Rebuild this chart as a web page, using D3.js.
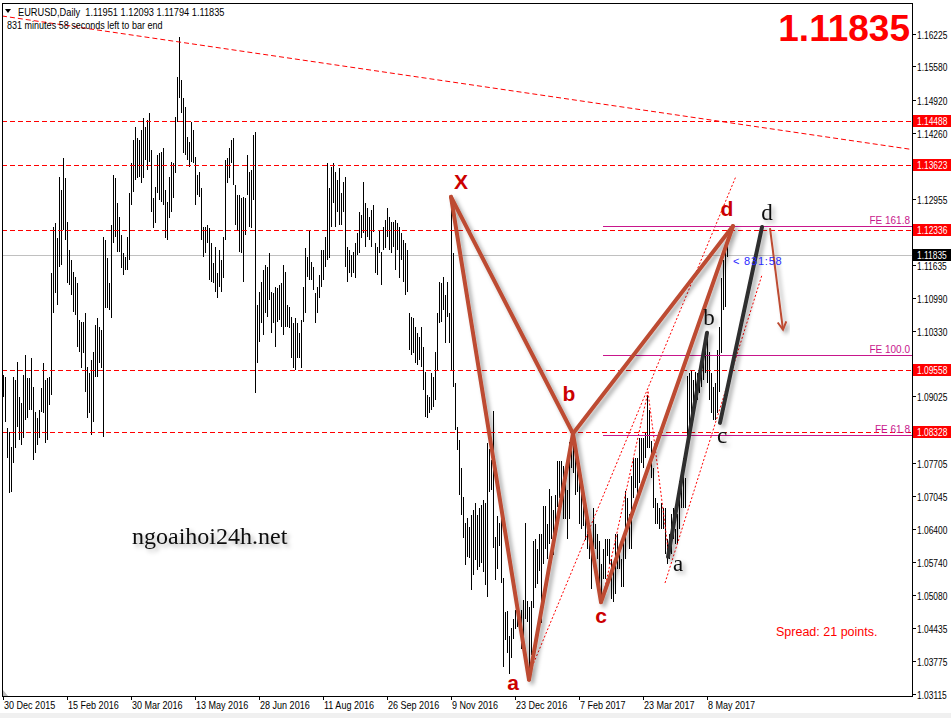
<!DOCTYPE html>
<html><head><meta charset="utf-8">
<script src="https://cdn.jsdelivr.net/npm/d3@7"></script>
<style>
body{margin:0;background:#fff}
svg{display:block}
</style>
</head><body>
<svg id="chart" width="951" height="718" font-family="Liberation Sans, Arial, sans-serif"></svg>
<script>
// ---- EURUSD daily bars, 30 Dec 2015 .. 22 May 2017 ----
const symbol = "EURUSD,Daily";
const lastBar = {open: 1.11951, high: 1.12093, low: 1.11794, close: 1.11835};
const highs = [
1.0945,1.0941,1.0840,1.0832,1.0802,1.0941,1.0935,1.0971,1.0902,1.0890,
1.0945,1.0985,1.0939,1.0939,1.0979,1.0921,1.0872,1.0860,1.0876,1.0919,
1.0969,1.0935,1.0939,1.0941,1.1148,1.1239,1.1247,1.1217,1.1338,1.1313,
1.1376,1.1336,1.1249,1.1194,1.1174,1.1150,1.1140,1.1128,1.1054,1.1051,
1.1051,1.1068,1.0961,1.0949,1.0975,1.0991,1.1045,1.1058,1.1041,1.1035,
1.1219,1.1213,1.1178,1.1128,1.1243,1.1342,1.1336,1.1287,1.1259,1.1223,
1.1188,1.1180,1.1219,1.1307,1.1366,1.1412,1.1438,1.1416,1.1412,1.1432,
1.1456,1.1438,1.1452,1.1466,1.1392,1.1297,1.1319,1.1382,1.1386,1.1388,
1.1396,1.1313,1.1289,1.1338,1.1368,1.1366,1.1458,1.1537,1.1617,1.1531,
1.1495,1.1477,1.1418,1.1408,1.1448,1.1432,1.1378,1.1342,1.1348,1.1317,
1.1239,1.1239,1.1243,1.1237,1.1207,1.1168,1.1199,1.1148,1.1194,1.1174,
1.1219,1.1372,1.1376,1.1396,1.1412,1.1416,1.1323,1.1303,1.1303,1.1297,
1.1299,1.1297,1.1382,1.1348,1.1352,1.1422,1.1428,1.1084,1.1110,1.1130,
1.1154,1.1164,1.1160,1.1188,1.1110,1.1108,1.1120,1.1118,1.1124,1.1128,
1.1164,1.1150,1.1084,1.1080,1.1060,1.1049,1.1058,1.1049,1.1029,1.1054,
1.1120,1.1198,1.1180,1.1233,1.1170,1.1160,1.1108,1.1120,1.1144,1.1194,
1.1194,1.1219,1.1366,1.1317,1.1358,1.1366,1.1348,1.1333,1.1356,1.1307,
1.1329,1.1338,1.1199,1.1194,1.1184,1.1190,1.1207,1.1227,1.1269,1.1263,
1.1329,1.1287,1.1277,1.1259,1.1273,1.1283,1.1207,1.1199,1.1233,1.1190,
1.1239,1.1253,1.1277,1.1259,1.1249,1.1249,1.1253,1.1247,1.1239,1.1227,
1.1213,1.1207,1.1194,1.1068,1.1060,1.1058,1.1041,1.1029,1.1021,1.1041,
1.1001,1.0951,1.0906,1.0902,1.0949,1.0941,1.0991,1.1068,1.1130,1.1128,
1.1140,1.1104,1.1130,1.1068,1.1299,1.1188,1.0929,1.0842,1.0816,1.0761,
1.0703,1.0651,1.0661,1.0643,1.0667,1.0677,1.0691,1.0667,1.0681,1.0687,
1.0697,1.0691,1.0810,1.0799,1.0776,1.0874,1.0623,1.0666,1.0652,1.0670,
1.0541,1.0475,1.0477,1.0427,1.0443,1.0460,1.0478,1.0472,1.0475,1.0479,
1.0498,1.0652,1.0497,1.0485,1.0497,1.0615,1.0620,1.0600,1.0630,1.0630,
1.0685,1.0684,1.0650,1.0718,1.0705,1.0677,1.0707,1.0774,1.0775,1.0775,
1.0765,1.0733,1.0717,1.0812,1.0810,1.0829,1.0800,1.0790,1.0750,1.0720,
1.0690,1.0690,1.0656,1.0640,1.0610,1.0680,1.0650,1.0630,1.0615,1.0570,
1.0600,1.0620,1.0620,1.0620,1.0580,1.0560,1.0630,1.0630,1.0600,1.0580,
1.0615,1.0715,1.0700,1.0670,1.0745,1.0780,1.0780,1.0780,1.0820,1.0820,
1.0820,1.0830,1.0906,1.0875,1.0815,1.0760,1.0700,1.0690,1.0680,1.0690,
1.0680,1.0680,1.0620,1.0630,1.0670,1.0680,1.0640,1.0670,1.0735,1.0740,
1.0780,1.0740,1.0943,1.0949,1.0955,1.0935,1.0951,1.0949,1.0961,1.0975,
1.1001,1.1014,1.1029,1.0991,1.0949,1.0921,1.0929,1.0995,1.1041,1.1138,
1.1174,1.1199,1.12093];
const lows = [
1.0902,1.0852,1.0780,1.0711,1.0713,1.0770,1.0800,1.0842,1.0816,1.0806,
1.0820,1.0856,1.0860,1.0876,1.0876,1.0776,1.0790,1.0806,1.0820,1.0872,
1.0870,1.0810,1.0816,1.0886,1.0906,1.1068,1.1108,1.1084,1.1160,1.1164,
1.1233,1.1213,1.1128,1.1124,1.1104,1.1070,1.1064,1.1001,1.0991,1.0959,
1.0989,1.0911,1.0860,1.0870,1.0826,1.0852,1.0941,1.0941,1.0969,1.0959,
1.0822,1.1078,1.1078,1.1074,1.1058,1.1207,1.1219,1.1190,1.1190,1.1158,
1.1144,1.1154,1.1154,1.1174,1.1283,1.1309,1.1333,1.1336,1.1338,1.1327,
1.1336,1.1372,1.1352,1.1368,1.1269,1.1237,1.1247,1.1307,1.1293,1.1289,
1.1283,1.1217,1.1213,1.1257,1.1269,1.1297,1.1346,1.1448,1.1495,1.1466,
1.1386,1.1382,1.1372,1.1358,1.1368,1.1366,1.1283,1.1303,1.1299,1.1213,
1.1180,1.1188,1.1207,1.1134,1.1130,1.1128,1.1110,1.1098,1.1120,1.1110,
1.1138,1.1213,1.1327,1.1336,1.1366,1.1323,1.1243,1.1233,1.1190,1.1188,
1.1130,1.1223,1.1303,1.1239,1.1237,1.1293,1.0910,1.0969,1.1011,1.1049,
1.1025,1.1068,1.1060,1.1094,1.1029,1.1049,1.1001,1.1051,1.1054,1.1041,
1.1025,1.1041,1.1041,1.1039,1.0979,1.0959,1.0955,1.0979,1.0979,1.0959,
1.1051,1.1068,1.1140,1.1134,1.1134,1.1114,1.1049,1.1068,1.1098,1.1120,
1.1134,1.1160,1.1174,1.1178,1.1239,1.1287,1.1239,1.1269,1.1243,1.1243,
1.1269,1.1160,1.1130,1.1148,1.1140,1.1148,1.1138,1.1184,1.1188,1.1217,
1.1227,1.1199,1.1219,1.1213,1.1199,1.1229,1.1148,1.1144,1.1188,1.1124,
1.1194,1.1198,1.1219,1.1194,1.1188,1.1199,1.1154,1.1194,1.1138,1.1174,
1.1130,1.1104,1.1110,1.0995,1.0985,1.0989,1.0969,1.0965,1.0975,1.0961,
1.0915,1.0862,1.0860,1.0870,1.0876,1.0882,1.0896,1.0955,1.1049,1.1051,
1.1074,1.1009,1.1060,1.1009,1.0955,1.0921,1.0836,1.0796,1.0707,1.0667,
1.0622,1.0568,1.0584,1.0582,1.0518,1.0548,1.0578,1.0558,1.0564,1.0572,
1.0554,1.0528,1.0504,1.0713,1.0716,1.0601,1.0538,1.0560,1.0605,1.0531,
1.0366,1.0418,1.0392,1.0352,1.0383,1.0420,1.0441,1.0445,1.0444,1.0400,
1.0422,1.0461,1.0454,1.0340,1.0388,1.0482,1.0523,1.0530,1.0555,1.0453,
1.0570,1.0600,1.0580,1.0610,1.0620,1.0588,1.0625,1.0683,1.0700,1.0705,
1.0660,1.0660,1.0619,1.0660,1.0760,1.0750,1.0706,1.0712,1.0650,1.0640,
1.0645,1.0617,1.0600,1.0580,1.0520,1.0580,1.0600,1.0580,1.0520,1.0494,
1.0540,1.0540,1.0585,1.0570,1.0500,1.0495,1.0510,1.0560,1.0560,1.0525,
1.0525,1.0580,1.0640,1.0600,1.0600,1.0700,1.0720,1.0700,1.0730,1.0770,
1.0760,1.0780,1.0800,1.0800,1.0740,1.0680,1.0650,1.0650,1.0640,1.0640,
1.0640,1.0590,1.0570,1.0580,1.0590,1.0620,1.0610,1.0610,1.0640,1.0680,
1.0680,1.0680,1.0816,1.0830,1.0842,1.0862,1.0882,1.0896,1.0910,1.0921,
1.0935,1.0949,1.0929,1.0896,1.0870,1.0856,1.0856,1.0870,1.0911,1.0989,
1.1074,1.1080,1.11794];

// time axis: one label every 32 bars
const dateLabels = ["30 Dec 2015","15 Feb 2016","30 Mar 2016","13 May 2016","28 Jun 2016",
  "11 Aug 2016","26 Sep 2016","9 Nov 2016","23 Dec 2016","7 Feb 2017","23 Mar 2017","8 May 2017"];
const dateLabelStep = 32;

// price axis
const priceTicks = [1.16225,1.15580,1.14920,1.14260,1.13600,1.12955,1.12295,1.11635,1.10990,
  1.10330,1.09670,1.09025,1.08365,1.07705,1.07045,1.06400,1.05740,1.05080,1.04435,1.03775,1.03115];
const levelLines = [1.14488, 1.13623, 1.12336, 1.09558, 1.08328];
const feLevels = [
  {name: "FE 161.8", price: 1.1241},
  {name: "FE 100.0", price: 1.0985},
  {name: "FE 61.8",  price: 1.0826}
];
const feStartBar = 300;

// harmonic pattern (bar index, price)
const mainPoints = [
  {label: "X", i: 224, p: 1.1299},
  {label: "a", i: 263, p: 1.0340},
  {label: "b", i: 285, p: 1.0829},
  {label: "c", i: 299, p: 1.0494},
  {label: "d", i: 365, p: 1.1241}
];
const mainLegs = [["X","a"],["a","b"],["X","b"],["b","c"],["c","d"],["b","d"]];
const altPoints = [
  {label: "a", i: 332.5, p: 1.0584},
  {label: "b", i: 352,   p: 1.1029},
  {label: "c", i: 358.5, p: 1.0850},
  {label: "d", i: 379.5, p: 1.1239}
];
const altLegs = [["a","b"],["c","d"]];
const arrowLeg = {i0: 383.5, p0: 1.1237, i1: 390, p1: 1.1035};

// long descending trend line and dotted channel lines
const trendLine = {i0: 0, p0: 1.1658, i1: 362, p1: 1.1447};
const dottedLines = [
  {i0: 264.5, p0: 1.0365, i1: 366.5, p1: 1.1340},
  {i0: 300,   p0: 1.0506, i1: 322.5, p1: 1.0912},
  {i0: 322.5, p0: 1.0912, i1: 332.5, p1: 1.0600},
  {i0: 331,   p0: 1.0532, i1: 379.5, p1: 1.1144}
];
const spreadPoints = 21;
const timeLeft = {min: 831, sec: 58};

// ---- layout ----
const W = 951, H = 718;
const plot = {left: 2, top: 3, right: 912, bottom: 696};
const serif = "'Liberation Serif','Times New Roman',serif";
const svg = d3.select("#chart");
const x = d3.scaleLinear().domain([0, highs.length - 1]).range([3, 3 + 2 * (highs.length - 1)]);
const y = d3.scaleLinear().domain([1.03115, 1.16225]).range([694, 34]);
const rust = "#bd4b33", red = "#ff0000", darkRed = "#cc0000", magenta = "#c8168c";

// narrow the small terminal-style captions
function squeeze(sel, k) {
  sel.each(function () {
    const len = this.getComputedTextLength();
    this.setAttribute("textLength", (len * k).toFixed(1));
    this.setAttribute("lengthAdjust", "spacingAndGlyphs");
  });
}

const defs = svg.append("defs");
const sh = defs.append("filter").attr("id","shadow").attr("x","-20%").attr("y","-20%").attr("width","140%").attr("height","140%");
sh.append("feDropShadow").attr("dx",3).attr("dy",3).attr("stdDeviation",2)
  .attr("flood-color","#000").attr("flood-opacity",0.35);
const glow = defs.append("filter").attr("id","glow").attr("x","-50%").attr("y","-50%").attr("width","200%").attr("height","200%");
glow.append("feDropShadow").attr("dx",3).attr("dy",3).attr("stdDeviation",2)
  .attr("flood-color","#000").attr("flood-opacity",0.3);
defs.append("clipPath").attr("id","plotClip").append("rect")
  .attr("x", plot.left).attr("y", plot.top).attr("width", plot.right - plot.left).attr("height", plot.bottom - plot.top);

svg.append("rect").attr("width", W).attr("height", H).attr("fill", "#fff");
svg.append("rect").attr("x",0).attr("y",713).attr("width",W).attr("height",5).attr("fill","#f0f0f0");

const g = svg.append("g").attr("clip-path","url(#plotClip)");

// current price line
g.append("line").attr("x1",plot.left).attr("x2",plot.right)
  .attr("y1", Math.round(y(lastBar.close)) + 0.5).attr("y2", Math.round(y(lastBar.close)) + 0.5)
  .attr("stroke","#c0c0c0");

// bars
g.append("g").selectAll("rect").data(highs).join("rect")
  .attr("x", (d,i) => x(i))
  .attr("y", d => Math.round(y(d)))
  .attr("width", 1)
  .attr("height", (d,i) => Math.max(1, Math.round(y(lows[i])) - Math.round(y(d))))
  .attr("fill", "#000");

// horizontal levels
g.append("g").selectAll("line").data(levelLines).join("line")
  .attr("x1", plot.left).attr("x2", plot.right)
  .attr("y1", d => Math.round(y(d)) + 0.5).attr("y2", d => Math.round(y(d)) + 0.5)
  .attr("stroke", red).attr("stroke-dasharray","5,3");

// trend line, extended to the plot edges
const slope = (trendLine.p1 - trendLine.p0) / (trendLine.i1 - trendLine.i0);
const iL = x.invert(plot.left), iR = x.invert(plot.right);
g.append("line")
  .attr("x1", plot.left).attr("y1", y(trendLine.p0 + slope * (iL - trendLine.i0)))
  .attr("x2", plot.right).attr("y2", y(trendLine.p0 + slope * (iR - trendLine.i0)))
  .attr("stroke", red).attr("stroke-dasharray","5,3");

// dotted lines
g.append("g").selectAll("line").data(dottedLines).join("line")
  .attr("x1", d => x(d.i0)).attr("y1", d => y(d.p0))
  .attr("x2", d => x(d.i1)).attr("y2", d => y(d.p1))
  .attr("stroke", red).attr("stroke-dasharray","2,2");

// Fibonacci expansion levels
const fe = g.append("g");
fe.selectAll("line").data(feLevels).join("line")
  .attr("x1", x(feStartBar)).attr("x2", plot.right)
  .attr("y1", d => Math.round(y(d.price)) + 0.5).attr("y2", d => Math.round(y(d.price)) + 0.5)
  .attr("stroke", magenta);
fe.selectAll("text").data(feLevels).join("text")
  .attr("x", plot.right - 2).attr("y", d => Math.round(y(d.price)) - 2)
  .attr("text-anchor","end").attr("font-size", 10).attr("fill", magenta)
  .text(d => d.name);

// harmonic pattern legs
const byLabel = pts => Object.fromEntries(pts.map(p => [p.label, p]));
const mp = byLabel(mainPoints), ap = byLabel(altPoints);
g.append("g").attr("filter","url(#shadow)").selectAll("line").data(mainLegs).join("line")
  .attr("x1", d => x(mp[d[0]].i)).attr("y1", d => y(mp[d[0]].p))
  .attr("x2", d => x(mp[d[1]].i)).attr("y2", d => y(mp[d[1]].p))
  .attr("stroke", rust).attr("stroke-width", 4).attr("stroke-linecap","round");
g.append("g").attr("filter","url(#shadow)").selectAll("line").data(altLegs).join("line")
  .attr("x1", d => x(ap[d[0]].i)).attr("y1", d => y(ap[d[0]].p))
  .attr("x2", d => x(ap[d[1]].i)).attr("y2", d => y(ap[d[1]].p))
  .attr("stroke", "#2e2e2e").attr("stroke-width", 4).attr("stroke-linecap","round");

// projected move arrow
const ax0 = x(arrowLeg.i0), ay0 = y(arrowLeg.p0), ax1 = x(arrowLeg.i1), ay1 = y(arrowLeg.p1);
const ang = Math.atan2(ay1 - ay0, ax1 - ax0);
const arrow = g.append("g").attr("filter","url(#shadow)").attr("stroke", rust).attr("stroke-width", 2).attr("fill","none");
arrow.append("line").attr("x1",ax0).attr("y1",ay0).attr("x2",ax1).attr("y2",ay1);
arrow.append("path").attr("d", d3.line()([
  [ax1 - 9*Math.cos(ang - 0.5), ay1 - 9*Math.sin(ang - 0.5)], [ax1, ay1],
  [ax1 - 9*Math.cos(ang + 0.5), ay1 - 9*Math.sin(ang + 0.5)]]));

// pattern labels
const mainOffsets = {X: [10, -15], a: [-16, 3], b: [-4, -40], c: [0, 14], d: [-6, -17]};
g.append("g").selectAll("text").data(mainPoints).join("text")
  .attr("x", d => x(d.i) + mainOffsets[d.label][0])
  .attr("y", d => y(d.p) + mainOffsets[d.label][1])
  .attr("text-anchor","middle").attr("dy","0.35em")
  .attr("font-size", 21).attr("font-weight","bold").attr("fill", darkRed)
  .text(d => d.label);
const altOffsets = {a: [10, 7], b: [2, -15], c: [2, 13], d: [5, -14]};
g.append("g").attr("filter","url(#glow)").selectAll("text").data(altPoints).join("text")
  .attr("x", d => x(d.i) + altOffsets[d.label][0])
  .attr("y", d => y(d.p) + altOffsets[d.label][1])
  .attr("text-anchor","middle").attr("dy","0.32em")
  .attr("font-size", 23).attr("font-family", serif).attr("fill", "#111")
  .text(d => d.label);

// watermark, spread, bar timer
svg.append("text").attr("x",132).attr("y",544).attr("filter","url(#glow)")
  .attr("font-family", serif).attr("font-size",24).attr("fill","#111")
  .text("ngoaihoi24h.net");
svg.append("text").attr("x",776).attr("y",636).attr("font-size",12.5).attr("fill",red)
  .text(`Spread: ${spreadPoints} points.`);
svg.append("text").attr("x", x(highs.length - 1) + 6).attr("y", Math.round(y(lastBar.close)) + 10)
  .attr("font-size",11).attr("letter-spacing",0.8).attr("fill","#2a2aff")
  .text(`< ${timeLeft.min}:${timeLeft.sec}`);

// frame
svg.append("rect").attr("x", plot.left + 0.5).attr("y", plot.top + 0.5)
  .attr("width", plot.right - plot.left).attr("height", plot.bottom - plot.top)
  .attr("fill","none").attr("stroke","#000");
svg.append("path").attr("d", `M${plot.left+1},${plot.bottom-6}L${plot.left+6},${plot.bottom}L${plot.left+1},${plot.bottom}Z`).attr("fill","#bbb");

// price axis; a tick label that sits under a level box is left out
const boxes = levelLines.map(p => ({p, fill: red})).concat([{p: lastBar.close, fill: "#000"}]);
const hidden = t => boxes.some(b => Math.abs(y(b.p) - y(t)) < 6);
const pa = svg.append("g");
pa.selectAll("line").data(priceTicks).join("line")
  .attr("x1", plot.right).attr("x2", plot.right + 4)
  .attr("y1", d => Math.round(y(d)) + 0.5).attr("y2", d => Math.round(y(d)) + 0.5).attr("stroke","#000");
pa.selectAll("text").data(priceTicks.filter(t => !hidden(t))).join("text")
  .attr("x", plot.right + 5).attr("y", d => Math.round(y(d)) + 1).attr("dy","0.35em")
  .attr("font-size", 10.5).attr("fill","#000").text(d => d.toFixed(5))
  .call(squeeze, 0.8);

// level price boxes
const bx = svg.append("g").selectAll("g").data(boxes).join("g")
  .attr("transform", d => `translate(${plot.right + 1},${Math.round(y(d.p))})`);
bx.append("rect").attr("x",0).attr("y",-6).attr("width", W - plot.right).attr("height",12).attr("fill", d => d.fill);
bx.append("text").attr("x",4).attr("dy","0.35em").attr("font-size",10.5).attr("fill","#fff").text(d => d.p.toFixed(5))
  .call(squeeze, 0.8);

// time axis
const ta = svg.append("g");
const dl = dateLabels.map((t,k) => ({t, i: k * dateLabelStep}));
ta.selectAll("line").data(dl).join("line")
  .attr("x1", d => x(d.i) + 0.5).attr("x2", d => x(d.i) + 0.5)
  .attr("y1", plot.bottom).attr("y2", plot.bottom + 4).attr("stroke","#000");
ta.selectAll("text").data(dl).join("text")
  .attr("x", d => x(d.i) + 1).attr("y", 709).attr("font-size", 11).attr("fill","#000").text(d => d.t)
  .call(squeeze, 0.82);

// header
svg.append("path").attr("d","M5,9L11,9L8,13Z").attr("fill","#000");
svg.append("text").attr("x",18).attr("y",16).attr("font-size",11).attr("fill","#000")
  .style("white-space","pre")
  .text(`${symbol}  ${lastBar.open.toFixed(5)} ${lastBar.high.toFixed(5)} ${lastBar.low.toFixed(5)} ${lastBar.close.toFixed(5)}`)
  .call(squeeze, 0.84);
svg.append("text").attr("x",7).attr("y",29).attr("font-size",11).attr("fill","#000")
  .text(`${timeLeft.min} minutes ${timeLeft.sec} seconds left to bar end`)
  .call(squeeze, 0.82);
svg.append("text").attr("x",910).attr("y",41).attr("text-anchor","end")
  .attr("font-size",37).attr("font-weight","bold").attr("fill",red)
  .text(lastBar.close.toFixed(5));
</script>
</body></html>
